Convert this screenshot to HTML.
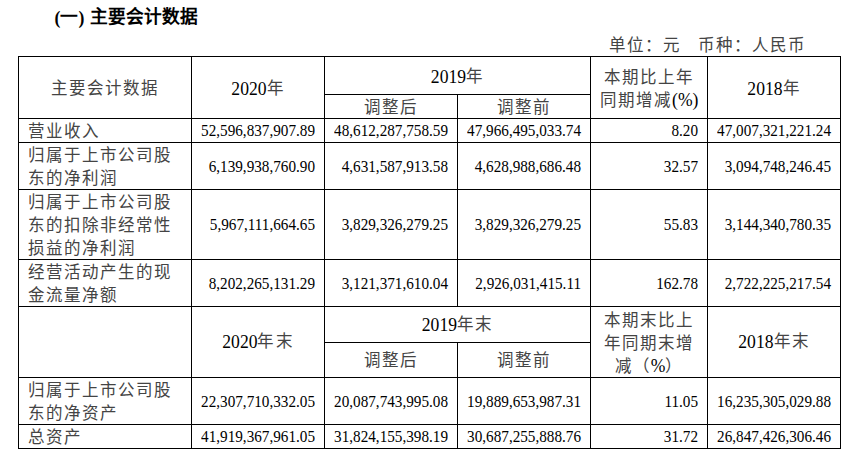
<!DOCTYPE html>
<html lang="zh-CN">
<head>
<meta charset="utf-8">
<style>
html,body{margin:0;padding:0;background:#fff;}
body{width:859px;height:467px;position:relative;overflow:hidden;font-family:"Liberation Serif",serif;color:#000;}
.title{position:absolute;left:54.5px;top:5px;font-size:17.7px;font-weight:bold;line-height:24px;white-space:nowrap;word-spacing:1.5px;}
.unit{position:absolute;top:33.5px;font-size:16.5px;line-height:24px;white-space:nowrap;letter-spacing:1.1px;}
.u1{left:609px;}
.u2{left:697.5px;}
table{position:absolute;left:18px;top:56px;border-collapse:collapse;table-layout:fixed;width:823px;}
td{border:1px solid #000;padding:0;font-size:15.2px;line-height:23px;vertical-align:middle;overflow:hidden;white-space:nowrap;}
td.l{text-align:left;padding-left:8.5px;font-size:16.5px;letter-spacing:1px;}
td.l span{position:relative;top:1px;}
td.c{text-align:center;font-size:17.6px;}
td.r{text-align:right;padding-right:9px;}
td.r span{position:relative;top:-1px;display:inline-block;transform:scaleY(1.1);}
td.c.cj,.cj{font-size:16.5px;letter-spacing:1.1px;color:#444;}
td.l,.unit{color:#444;}
td.c > span.w{position:relative;top:1px;display:inline-block;}
.d{display:inline-block;transform:scaleY(1.1);}
.p{color:#000;font-size:17.6px;letter-spacing:0;display:inline-block;transform:scaleY(1.08);}
tr.g td.c > span.w{top:0;}
tr.g td.c[rowspan] > span.w{top:-0.5px;}
tr.g td.c.cj[rowspan] > span.w{top:1px;}
</style>
</head>
<body>
<div class="title"><span class="d">(</span>一<span class="d">)</span> 主要会计数据</div>
<div class="unit u1">单位：元</div><div class="unit u2">币种：人民币</div>
<table>
<colgroup><col style="width:173px"><col style="width:133px"><col style="width:133px"><col style="width:133px"><col style="width:117px"><col style="width:133px"></colgroup>
<tr style="height:38px"><td class="c cj" rowspan="2"><span class="w">主要会计数据</span></td><td class="c" rowspan="2"><span class="w"><span class="d">2020</span><span class="cj">年</span></span></td><td class="c" colspan="2"><span class="w"><span class="d">2019</span><span class="cj">年</span></span></td><td class="c cj" rowspan="2"><span class="w">本期比上年<br>同期增减<span class="p">(%)</span></span></td><td class="c" rowspan="2"><span class="w"><span class="d">2018</span><span class="cj">年</span></span></td></tr>
<tr style="height:24px"><td class="c cj"><span class="w">调整后</span></td><td class="c cj"><span class="w">调整前</span></td></tr>
<tr style="height:24px"><td class="l"><span>营业收入</span></td><td class="r"><span>52,596,837,907.89</span></td><td class="r"><span>48,612,287,758.59</span></td><td class="r"><span>47,966,495,033.74</span></td><td class="r"><span>8.20</span></td><td class="r"><span>47,007,321,221.24</span></td></tr>
<tr style="height:47px"><td class="l"><span>归属于上市公司股</span><br><span>东的净利润</span></td><td class="r"><span>6,139,938,760.90</span></td><td class="r"><span>4,631,587,913.58</span></td><td class="r"><span>4,628,988,686.48</span></td><td class="r"><span>32.57</span></td><td class="r"><span>3,094,748,246.45</span></td></tr>
<tr style="height:69px"><td class="l"><span>归属于上市公司股</span><br><span>东的扣除非经常性</span><br><span>损益的净利润</span></td><td class="r"><span>5,967,111,664.65</span></td><td class="r"><span>3,829,326,279.25</span></td><td class="r"><span>3,829,326,279.25</span></td><td class="r"><span>55.83</span></td><td class="r"><span>3,144,340,780.35</span></td></tr>
<tr style="height:47px"><td class="l"><span>经营活动产生的现</span><br><span>金流量净额</span></td><td class="r"><span>8,202,265,131.29</span></td><td class="r"><span>3,121,371,610.04</span></td><td class="r"><span>2,926,031,415.11</span></td><td class="r"><span>162.78</span></td><td class="r"><span>2,722,225,217.54</span></td></tr>
<tr class="g" style="height:36px"><td class="l" rowspan="2"></td><td class="c" rowspan="2"><span class="w"><span class="d">2020</span><span class="cj">年末</span></span></td><td class="c" colspan="2"><span class="w"><span class="d">2019</span><span class="cj">年末</span></span></td><td class="c cj" rowspan="2"><span class="w">本期末比上<br>年同期末增<br>减（<span class="p">%</span>）</span></td><td class="c" rowspan="2"><span class="w"><span class="d">2018</span><span class="cj">年末</span></span></td></tr>
<tr class="g" style="height:35px"><td class="c cj"><span class="w">调整后</span></td><td class="c cj"><span class="w">调整前</span></td></tr>
<tr style="height:47px"><td class="l"><span>归属于上市公司股</span><br><span>东的净资产</span></td><td class="r"><span>22,307,710,332.05</span></td><td class="r"><span>20,087,743,995.08</span></td><td class="r"><span>19,889,653,987.31</span></td><td class="r"><span>11.05</span></td><td class="r"><span>16,235,305,029.88</span></td></tr>
<tr style="height:24px"><td class="l"><span>总资产</span></td><td class="r"><span>41,919,367,961.05</span></td><td class="r"><span>31,824,155,398.19</span></td><td class="r"><span>30,687,255,888.76</span></td><td class="r"><span>31.72</span></td><td class="r"><span>26,847,426,306.46</span></td></tr>
</table>
</body>
</html>
